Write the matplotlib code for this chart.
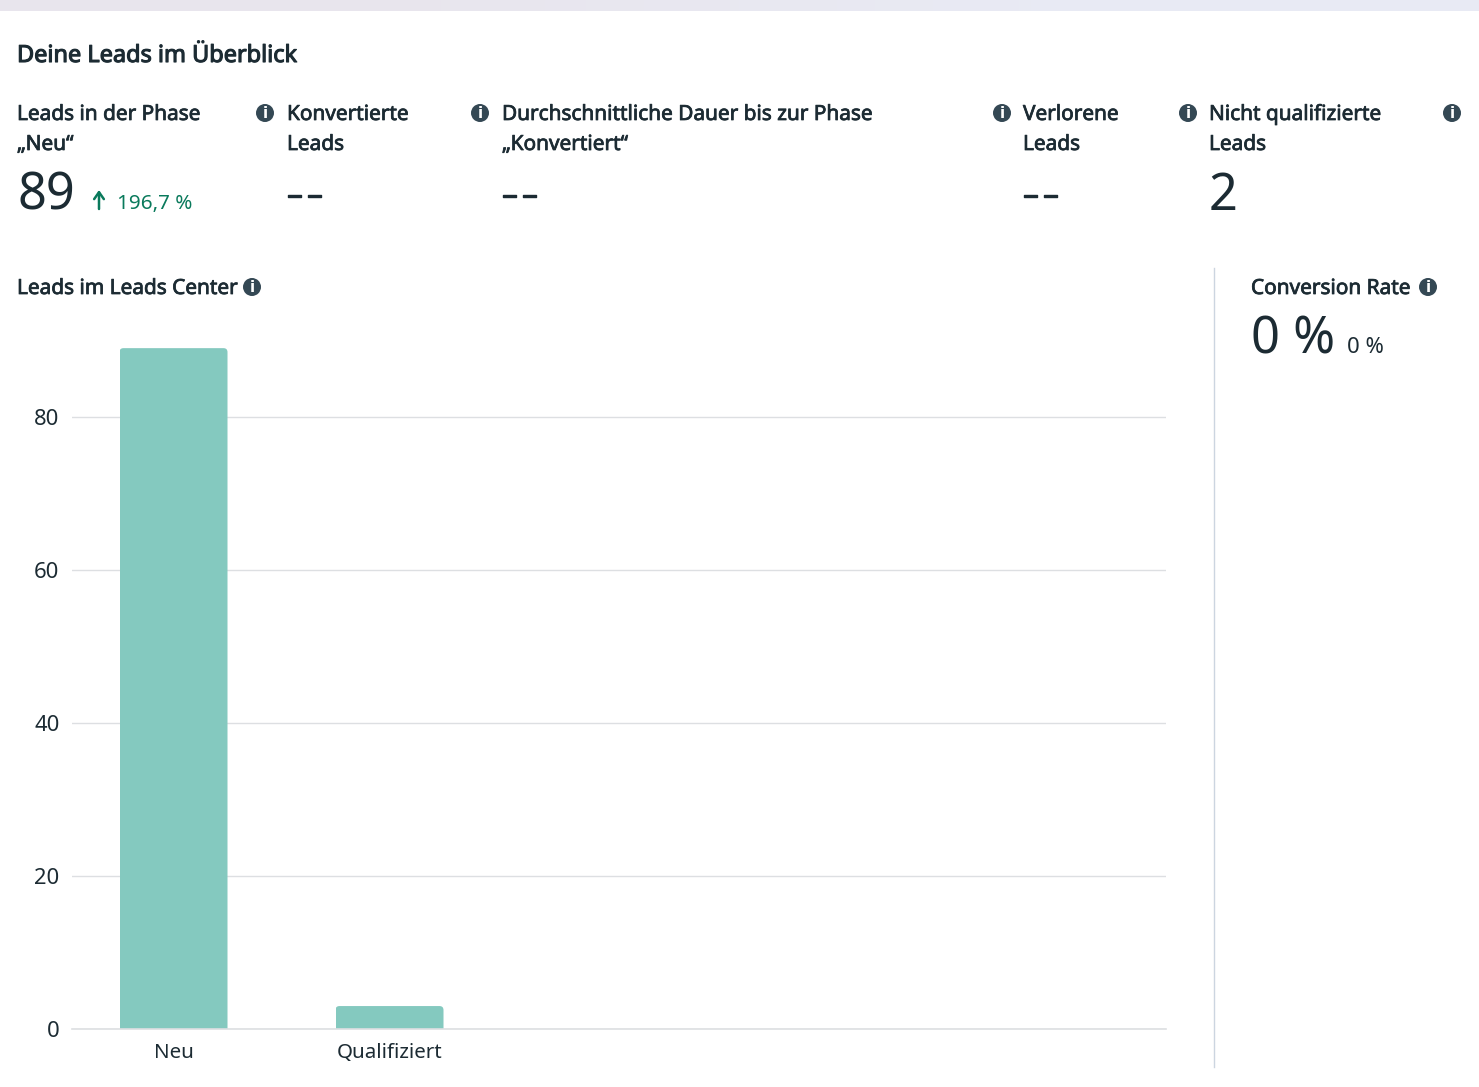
import matplotlib
matplotlib.use("Agg")
import matplotlib.pyplot as plt
import matplotlib.patheffects as pe
import numpy as np
from matplotlib.patches import Circle, FancyBboxPatch

W, H = 1479, 1087

categories = ["Neu", "Qualifiziert"]
lead_counts = [89, 3]
y_ticks = [0, 20, 40, 60, 80]

# header tiles: heading lines, value
tile_titles = [
    "Leads in der Phase\n„Neu“",
    "Konvertierte\nLeads",
    "Durchschnittliche Dauer bis zur Phase\n„Konvertiert“",
    "Verlorene\nLeads",
    "Nicht qualifizierte\nLeads",
]
tile_values = ["89", "--", "--", "--", "2"]
tile_x = [17, 287, 502, 1023, 1209]
icon_x = [265, 480, 1002, 1188, 1452]

INK = "#1c2b33"
ICON = "#344854"
TEAL = "#84c9bf"
GRID = "#dddfe2"
GREEN = "#0a7a5c"
FONT = "Noto Sans"


def px(size):
    return size * 72 / 100


fig = plt.figure(figsize=(W / 100, H / 100), dpi=100, facecolor="white")

# page layer in pixel coordinates
page = fig.add_axes([0, 0, 1, 1])
page.set_xlim(0, W)
page.set_ylim(H, 0)
page.axis("off")


def label(x, y, s, size, stroke=0.0, color=INK, **kw):
    # Noto Sans has no medium cut here, so a thin outline thickens the headings
    t = page.text(x, y, s, fontsize=px(size), color=color, family=FONT,
                  va="baseline", **kw)
    if stroke:
        t.set_path_effects([pe.withStroke(linewidth=stroke, foreground=color)])
    return t


def info_icon(x, y):
    page.add_patch(Circle((x, y), 9, color=ICON, lw=0))
    page.text(x, y + 0.5, "i", color="white", fontsize=px(15), fontweight="bold",
              family="DejaVu Sans", ha="center", va="center")


# strip along the top edge
strip = np.array([[[0.91, 0.90, 0.93], [0.91, 0.92, 0.96]]])
page.imshow(strip, extent=(0, W, 11, 0), aspect="auto", interpolation="bilinear")
page.set_xlim(0, W)
page.set_ylim(H, 0)

label(17, 62, "Deine Leads im Überblick", 23.5, 0.8)

for x, title, value in zip(tile_x, tile_titles, tile_values):
    first, second = title.split("\n")
    label(x, 120, first, 20.8, 0.55)
    label(x, 150, second, 20.8, 0.55)
    if value == "--":
        # empty metric: two short dashes
        label(x, 204, "–", 30, 1.0)
        label(x + 20, 204, "–", 30, 1.0)
    else:
        label(x, 210, value, 50.5)
for x in icon_x:
    info_icon(x, 113)

# change next to the first tile
page.annotate("", xy=(99, 190), xytext=(99, 209),
              arrowprops=dict(arrowstyle="->,head_width=0.35,head_length=0.5",
                              color=GREEN, lw=1.8, shrinkA=0, shrinkB=0))
label(117, 209, "196,7 %", 20.7, color=GREEN)

label(17, 294, "Leads im Leads Center", 20.8, 0.55)
info_icon(252, 287)

# side panel
page.plot([1214, 1214], [268, 1067], color="#ccd5e0", lw=1)
label(1251, 294, "Conversion Rate", 20.8, 0.55)
info_icon(1428, 287)
label(1251, 353, "0 %", 50.5)
label(1347, 353, "0 %", 22)

# bar chart
left, right, top, base = 72, 1166, 330, 1029
ax = fig.add_axes([left / W, 1 - base / H, (right - left) / W, (base - top) / H])
ax.patch.set_alpha(0)
scale = 7.65
spacing = 216
ax.set_ylim(0, (base - top) / scale)
ax.set_xlim((left - 173.5) / spacing, (right - 173.5) / spacing)

positions = np.arange(len(categories))
bars = ax.bar(positions, lead_counts, width=0.5, color=TEAL, zorder=3)

# round the upper corners of each bar
rx = 4 / spacing
ry = 4 / scale
for bar in bars:
    x0 = bar.get_x()
    h = bar.get_height()
    clip = FancyBboxPatch((x0 + rx, -10), bar.get_width() - 2 * rx, h + 10 - ry,
                          boxstyle=f"round,pad={rx},rounding_size={rx}",
                          mutation_aspect=ry / rx, transform=ax.transData)
    bar.set_clip_path(clip)

ax.set_yticks(y_ticks)
ax.set_xticks(positions, categories)
ax.grid(axis="y", color=GRID, lw=1)
ax.set_axisbelow(True)
for side in ["top", "right", "left"]:
    ax.spines[side].set_visible(False)
ax.spines["bottom"].set_color(GRID)
ax.spines["bottom"].set_linewidth(1.2)
ax.spines["bottom"].set_zorder(4)
ax.tick_params(length=0, labelcolor=INK)
ax.tick_params(axis="y", pad=9, labelsize=px(22))
ax.tick_params(axis="x", pad=10, labelsize=px(20.5))
for t in ax.get_xticklabels() + ax.get_yticklabels():
    t.set_family("Noto Sans")

fig.savefig("out.png", dpi=100)
